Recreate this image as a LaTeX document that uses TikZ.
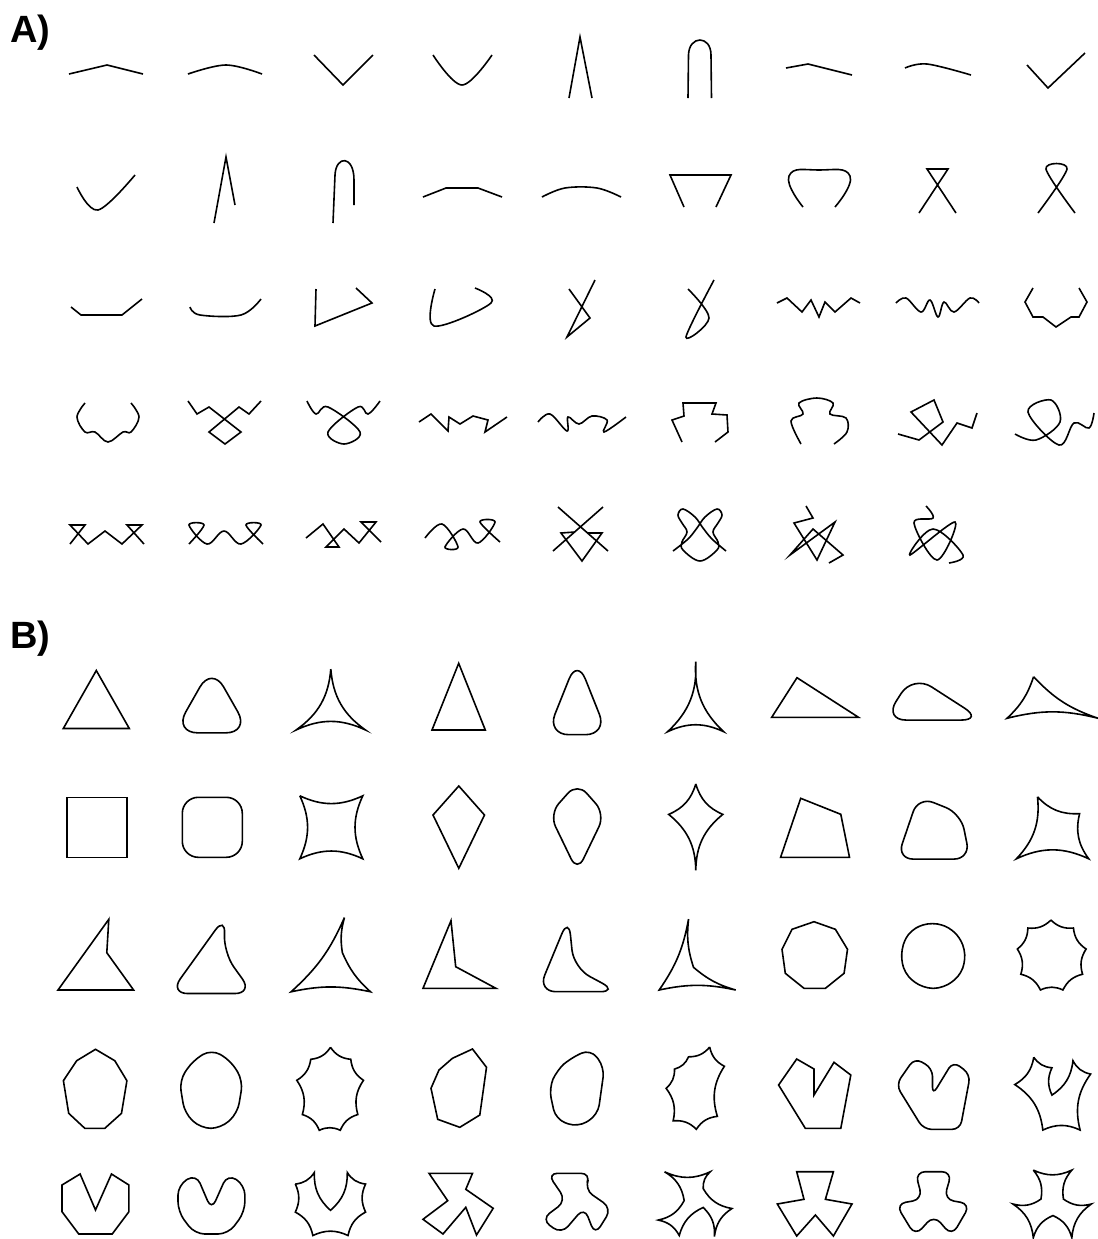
\documentclass[tikz,border=0pt]{standalone}
\usepackage{fontspec}
\newfontfamily\labelfont{Liberation Sans}

\tikzset{
  glyph/.style={line width=0.8pt, line join=miter},
  roundcopy/.style={rounded corners=8pt},
  concavebend/.style={bend right=25},
  lbl/.style={font=\labelfont\bfseries\fontsize{19pt}{19pt}\selectfont,
    inner sep=0pt, anchor=base west}
}

% open stroke and its smoothed copy
\newcommand{\strokepair}[2][(119,0)]{%
  \draw[glyph] plot coordinates {#2};
  \draw[glyph, shift={#1}] plot[smooth, tension=0.6] coordinates {#2};
}

% closed outline, rounded copy and concave copy
% #2 centre, #3/#4 shift of rounded/concave copy, #5 first vertex, #6 other vertices
\newcommand{\shapetriple}[6][]{%
  \begin{scope}[shift={#2}, #1]
    \draw[glyph] #5 \foreach \vx/\vy in {#6} { -- (\vx,\vy) } -- cycle;
    \draw[glyph, shift={(#3,0)}, roundcopy] #5 \foreach \vx/\vy in {#6} { -- (\vx,\vy) } -- cycle;
    \draw[glyph, shift={(#4,0)}, scale=1.05] #5 \foreach \vx/\vy in {#6} { to[concavebend] (\vx,\vy) } to[concavebend] #5;
  \end{scope}
}

\begin{document}
\begin{tikzpicture}[x=0.5pt, y=-0.5pt]
  \useasboundingbox (0,0) rectangle (1098,1239);

  % Labels
  \node[lbl] (labA) at (10,42) {A)};
  \node[lbl] (labB) at (10,648) {B)};

  % A, row 1
  \strokepair{(69,74) (107,65) (143,74)}
  \strokepair{(314,55) (343,85) (373,55)}
  \draw[glyph] (569,98) -- (580,37) -- (592,98);
  \draw[glyph] (688,98) -- (688.5,55) .. controls (689,35) and (711,35) .. (711,55) -- (711.5,98);
  \strokepair{(786,68) (808,64) (852,75)}
  \strokepair[(-950,122)]{(1027,65) (1048,88) (1085,53)}

  % A, row 2
  \draw[glyph] (214,223) -- (226,157) -- (235,205);
  \draw[glyph] (333,223) -- (335,175) .. controls (336,155) and (354,155) .. (354,180) -- (354,205);
  \strokepair{(423,197) (446,188) (478,188) (502,197)}
  \draw[glyph] (684,207) -- (670,175) -- (731,175) -- (716,207);
  \draw[glyph] plot[smooth, tension=0.9] coordinates {(803,207) (789,176) (819,170) (850,176) (835,207)};
  \strokepair{(919,213) (948,169) (927,169) (956,213)}

  % A, row 3
  \strokepair{(71,307) (81,315) (122,315) (142,299)}
  \strokepair{(316,289) (315,326) (372,303) (356,288)}
  \strokepair{(569,289) (590,318) (567,337) (595,280)}
  \strokepair{(777,303) (787,298) (802,312) (811,300) (819,317) (825,302) (835,312) (851,298) (860,303)}
  \strokepair[(-948,115)]{(1033,288) (1025,302) (1033,317) (1043,317) (1056,327) (1071,317) (1079,317) (1087,302) (1079,288)}

  % A, row 4
  \strokepair{(188,401) (197,414) (209,407) (241,432) (225,444) (209,432) (239,407) (249,414) (261,401)}
  \strokepair{(419,422) (431,414) (448,431) (449,417) (460,424) (473,416) (488,420) (485,432) (507,417)}
  \draw[glyph] (682,442) -- (672,420) -- (684,416) -- (683,403) -- (716,403) -- (712,414) -- (727,415) -- (728,432) -- (715,442);
  \draw[glyph] plot[smooth, tension=0.6] coordinates {(801,444) (791,421) (803,414) (799,403) (817,398)
    (833,403) (830,414) (846,418) (847,432) (834,444)};
  \strokepair[(117,0)]{(898,434) (919,440) (943,422) (934,400) (911,412) (942,445) (957,423) (972,428) (977,413)}

  % A, row 5
  \strokepair{(70,544) (85,525) (70,525) (88,544) (105,531) (122,544) (142,525) (127,525) (144,544)}
  \strokepair{(306,538) (323,524) (339,547) (326,547) (344,529) (359,543) (376,522) (361,522) (381,542)}
  \draw[glyph] (553,551) -- (603,507);
  \draw[glyph] (608,551) -- (558,507);
  \draw[glyph] (575,532) -- (561,533) -- (582,561) -- (602,533) -- (588,533);
  \draw[glyph] plot[smooth, tension=0.6] coordinates {(673,551) (688,539) (697,528) (705,517) (717,509)
    (722,515) (718,523) (713,532) (718,542) (717,550) (700,561) (683,550) (682,542) (687,532)
    (682,523) (678,515) (683,509) (695,517) (703,528) (712,539) (726,551)};
  \strokepair[(120,0)]{(806,506) (813,518) (794,523) (817,560) (835,522) (790,555) (813,529) (843,555) (829,563)}

  % B, row 1
  \shapetriple[roundcopy/.style={rounded corners=12pt, scale=1.15}]{(96.3,699.5)}{115.5}{234.5}{(0,-29)}{33/29, -33/29}
  \shapetriple[roundcopy/.style={rounded corners=11pt, scale=1.14}]{(458.7,696.7)}{118.5}{237}{(0,-33.4)}{26.6/33.3, -26.7/33.3}
  \shapetriple[roundcopy/.style={rounded corners=11pt, scale=1.14}, concavebend/.style={bend right=14}]{(815.1,697.5)}{118.5}{237.5}{(-18.1,-19.8)}{43.4/19.8, -43.4/19.8}

  % B, row 2
  \shapetriple{(96.8,827.3)}{115.5}{234.5}{(-30,-30)}{30/-30, 30/30, -30/30}
  \shapetriple[roundcopy/.style={rounded corners=7pt, scale=1.08}]{(458.8,827.2)}{118.5}{237}{(0,-41.2)}{25.7/-12.2, 0/41.1, -25.8/-12.2}
  \shapetriple[roundcopy/.style={rounded corners=8pt, scale=1.06}]{(815,827.8)}{118.5}{237.5}{(-14.3,-29.5)}{25.8/-13.5, 34.5/29.5, -34.4/29.5}

  % B, row 3
  \shapetriple[roundcopy/.style={rounded corners=9pt, scale=1.1}, concavebend/.style={bend right=12}]{(95.8,954.7)}{115.5}{235}{(13,-35.4)}{11/-2, 37.8/35.3, -37.8/35.3}
  \shapetriple[roundcopy/.style={rounded corners=9pt, scale=1.1}, concavebend/.style={bend right=12}]{(459.5,954.5)}{118.5}{238}{(-8.5,-33.8)}{-3.8/12.2, 36.4/33.8, -36.5/33.8}
  \shapetriple[roundcopy/.style={rounded corners=5pt}]{(814.8,955)}{118.5}{237}{(-0.8,-33.3)}{20.6/-25.7, 32.7/-5.7, 29.3/18.3, 10.6/33.3, -10.8/33.3, -29.5/18.3, -32.8/-5.7, -22.8/-25.7}

  % B, row 4
  \shapetriple[roundcopy/.style={rounded corners=5pt}]{(95.2,1088.8)}{116}{235}{(0.3,-39.5)}{19.6/-28.1, 31.7/-8.1, 26.3/24.5, 9.6/39.5, -10.4/39.5, -26.5/24.5, -31.8/-8.1, -18.5/-28.1}
  \shapetriple[roundcopy/.style={rounded corners=5pt}]{(458.8,1088.2)}{118}{236.5}{(13.7,-39.2)}{27.7/-20.9, 21/26.8, 1/39.1, -21.1/31.1, -27.8/0.1, -19.8/-18.2, -6.4/-29.9}
  \shapetriple[roundcopy/.style={rounded corners=4pt, scale=1.03}]{(814.7,1093.7)}{118.5}{238}{(-18,-34.7)}{-0.7/-24.7, -0.7/1.3, 19.3/-31.4, 36.1/-18.7, 26.1/34.6, -9.4/34.6, -36.1/-8.7}

  % B, row 5
  \shapetriple[roundcopy/.style={rounded corners=5pt}]{(95.5,1204)}{116}{235}{(-33.5,-19)}{-15.4/-30, 0/6, 16/-30, 33.4/-19, 33.4/7.7, 16.7/30, -16.8/30, -33.5/7.7}
  \shapetriple[roundcopy/.style={rounded corners=5pt}]{(458.1,1204.2)}{118.5}{237}{(-29.1,-30.9)}{14.4/-30.9, 7.7/-14.9, 35.1/4.1, 18.4/30.8, 7.7/3.1, -15.1/29.8, -35.1/15.1, -10.4/-3.5}
  \shapetriple[roundcopy/.style={rounded corners=5pt}]{(814.7,1203.9)}{118.5}{237.5}{(-18,-32.2)}{18.7/-32.2, 10.7/-4.6, 37.3/0.1, 18.7/32.1, 0.7/11.1, -18/32.1, -37.4/0.1, -10.7/-4.6}
\end{tikzpicture}
\end{document}
